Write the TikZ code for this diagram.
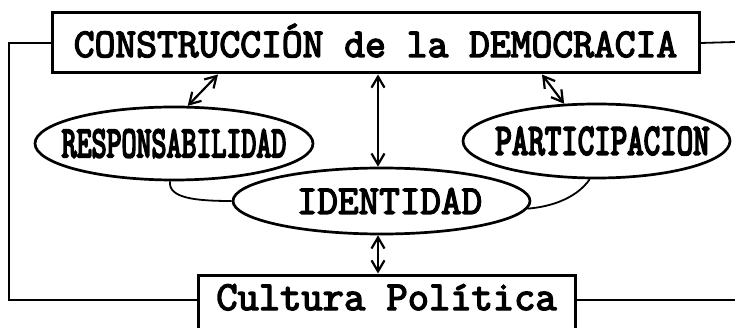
\documentclass[tikz,border=0pt]{standalone}
\usepackage{fontspec}
\usepackage{graphicx}
\newfontfamily\courb{Latin Modern Mono}[FakeBold=3.5]
\newfontfamily\courbb{Latin Modern Mono}[FakeBold=5]
\usetikzlibrary{shapes.geometric,arrows.meta}
\begin{document}
\begin{tikzpicture}[x=1pt,y=-1pt,
  box/.style={draw, line width=3pt, inner xsep=0pt, inner ysep=0pt, fill=white},
  ell/.style={draw, ellipse, line width=2.7pt, inner sep=0pt, fill=white},
  lnk/.style={line width=1.8pt},
  dbl/.style={line width=2.2pt, {Straight Barb[length=11pt,width=13pt]}-{Straight Barb[length=11pt,width=13pt]}},
  bigfont/.style={font=\fontsize{40}{44}\selectfont\courb},
  narfont/.style={font=\fontsize{40}{44}\selectfont\courbb}]
\useasboundingbox (0,0) rectangle (735,328);

% boxes
\node[box, bigfont, anchor=base, minimum width=647pt, text height=44pt, text depth=16pt] (tb) at (375.5,57)
  {\scalebox{1.01}[1.025]{CONSTRUCCIÓN de la DEMOCRACIA}};
\node[box, font=\fontsize{41.3}{44}\selectfont\courb, anchor=base, minimum width=377pt, text height=35pt, text depth=30pt] (cp) at (386.5,310)
  {Cultura Política};

% ellipses
\node[ell, narfont, minimum width=278pt, minimum height=73pt] (re) at (174,143.5)
  {\makebox[0pt]{\scalebox{0.727}[1.107]{RESPONSABILIDAD}}};
\node[ell, narfont, minimum width=267pt, minimum height=74pt] (pa) at (596.5,141)
  {\makebox[0pt]{\hspace*{12pt}\scalebox{0.80}[1.107]{PARTICIPACION}}};
\node[ell, bigfont, minimum width=297pt, minimum height=66pt] (id) at (381.5,201)
  {\makebox[0pt]{\hspace*{16pt}\scalebox{1}[1.025]{IDENTIDAD}}};

% helper coordinates
\coordinate (ax) at (378,0);
\coordinate (cl) at (9,300);
\coordinate (tr) at (735,42);
\coordinate (br) at (735,300);
\coordinate (c1) at (218,0);
\coordinate (c2) at (542,0);

% outer lines
\draw[lnk] (tb.west) -| (cl) -- (cl -| cp.west);
\draw[lnk] (tb.east) -- (tr);
\draw[lnk] (br -| cp.east) -- (br);

% arrows
\draw[dbl] (tb.south -| ax) -- (id.north -| ax);
\draw[dbl] (id.south -| ax) -- (cp.north -| ax);
\draw[dbl] (tb.south -| c1) -- (re.70);
\draw[dbl] (tb.south -| c2) -- (pa.131);

% curved connectors
\draw[lnk] (re.-96) .. controls (168,198) and (195,201) .. (id.west);
\draw[lnk] (id.-3) .. controls (548,207) and (575,200) .. (pa.-100);
\end{tikzpicture}
\end{document}
